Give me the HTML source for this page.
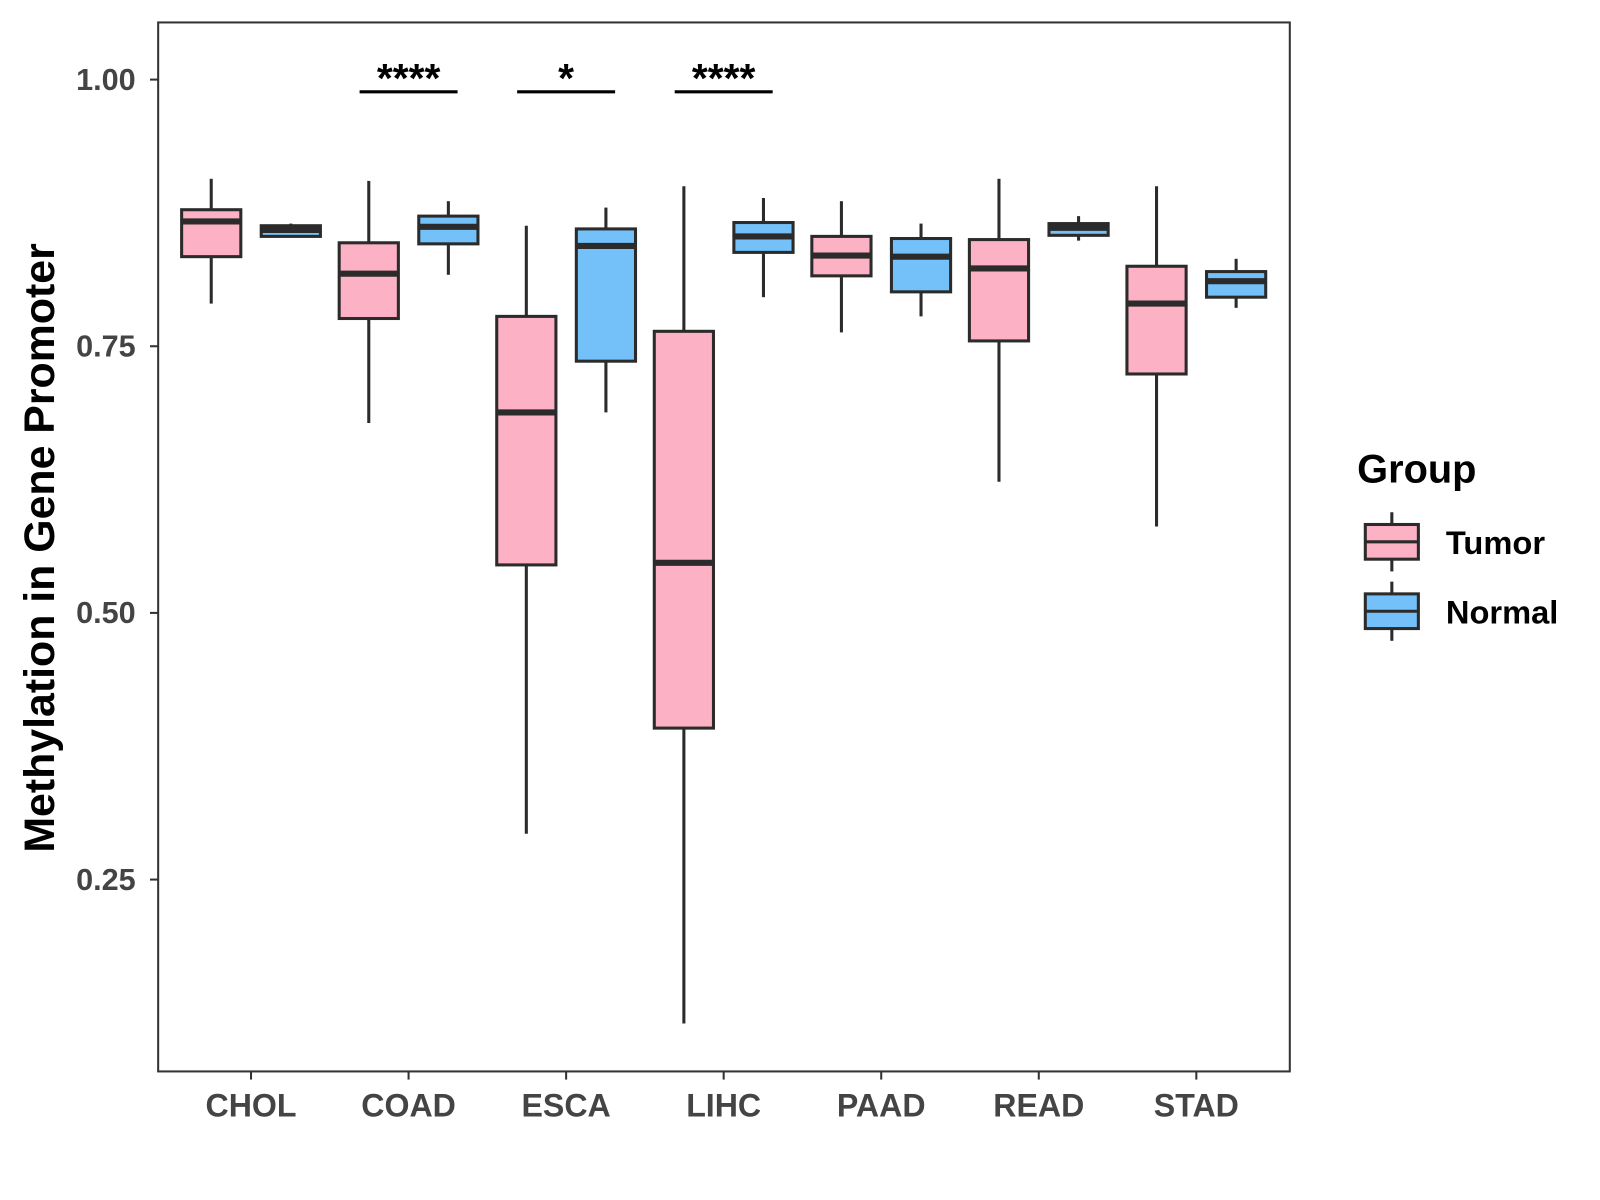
<!DOCTYPE html>
<html><head><meta charset="utf-8"><style>
body{margin:0;background:#fff;}
svg{display:block;}
svg text{font-family:"Liberation Sans",Arial,sans-serif;font-weight:bold;}
</style></head><body>
<svg id="chart" width="1600" height="1200" viewBox="0 0 1568 1176" preserveAspectRatio="none" xmlns="http://www.w3.org/2000/svg">
<rect x="0" y="0" width="1568" height="1176" fill="#fff"/>
<g id="plot"></g>
<rect x="155" y="22" width="1109" height="1028" fill="none" stroke="#333" stroke-width="2"/>
<text transform="translate(53,537) rotate(-90)" text-anchor="middle" font-size="42" fill="#000">Methylation in Gene Promoter</text>
<g>
<text x="1330" y="473" font-size="39" fill="#000">Group</text>
<g>
<line x1="1364" y1="502" x2="1364" y2="560" stroke="#2b2b2b" stroke-width="3"/>
<rect x="1338" y="514" width="52" height="34" fill="#fdb1c4" stroke="#2b2b2b" stroke-width="3"/>
<line x1="1338" y1="531" x2="1390" y2="531" stroke="#2b2b2b" stroke-width="3"/>
<text x="1417" y="543" font-size="32" fill="#000">Tumor</text></g>
<g>
<line x1="1364" y1="570" x2="1364" y2="628" stroke="#2b2b2b" stroke-width="3"/>
<rect x="1338" y="582" width="52" height="34" fill="#74c1fa" stroke="#2b2b2b" stroke-width="3"/>
<line x1="1338" y1="599" x2="1390" y2="599" stroke="#2b2b2b" stroke-width="3"/>
<text x="1417" y="611" font-size="32" fill="#000">Normal</text></g>
</g>
</svg>
<script>
const categories=["CHOL","COAD","ESCA","LIHC","PAAD","READ","STAD"];
// [low, q1, median, q3, high]
const tumorStats=[[0.790,0.834,0.867,0.878,0.907],[0.678,0.776,0.818,0.847,0.905],[0.293,0.545,0.688,0.778,0.863],[0.115,0.392,0.547,0.764,0.900],[0.763,0.816,0.835,0.853,0.886],[0.623,0.755,0.823,0.850,0.907],[0.581,0.724,0.790,0.825,0.900]];
const normalStats=[[0.852,0.853,0.859,0.863,0.865],[0.817,0.846,0.862,0.872,0.886],[0.688,0.736,0.844,0.860,0.880],[0.796,0.838,0.853,0.866,0.889],[0.778,0.801,0.834,0.851,0.865],[0.849,0.854,0.861,0.865,0.872],[0.786,0.796,0.811,0.820,0.832]];
const yTicks=[0.25,0.50,0.75,1.00];
const yTickLabels=["0.25","0.50","0.75","1.00"];
const sigCategories=["COAD","ESCA","LIHC"];
const sigLabels=["****","*","****"];

const NS="http://www.w3.org/2000/svg";
const g=document.getElementById("plot");
const y=v=>78+(1-v)*1045.3;
const x=i=>246+i*154.4;
function mk(tag,attrs,parent){const e=document.createElementNS(NS,tag);for(const k in attrs)e.setAttribute(k,attrs[k]);(parent||g).appendChild(e);return e;}
yTicks.forEach((t,i)=>{
 const l=mk("line",{x1:147,x2:155,y1:y(t),y2:y(t),stroke:"#333","stroke-width":2});
 
 
 const tx=mk("text",{x:133,y:y(t)+10,"text-anchor":"end","font-size":30,fill:"#444"});
 tx.textContent=yTickLabels[i];
 
 
});
categories.forEach((c,i)=>{
 const l=mk("line",{x1:x(i),x2:x(i),y1:1050,y2:1058,stroke:"#333","stroke-width":2});
 
 
 const tx=mk("text",{x:x(i),y:1094,"text-anchor":"middle","font-size":31.5,fill:"#444"});
 tx.textContent=c;
 
 
});
function box(cx,s,fill,name){
 const bg=mk("g",{});
 
 
 const w=29;
 mk("line",{x1:cx,x2:cx,y1:y(s[4]),y2:y(s[3]),stroke:"#2b2b2b","stroke-width":3},bg);
 mk("line",{x1:cx,x2:cx,y1:y(s[1]),y2:y(s[0]),stroke:"#2b2b2b","stroke-width":3},bg);
 mk("rect",{x:cx-w,y:y(s[3]),width:2*w,height:y(s[1])-y(s[3]),fill:fill,stroke:"#2b2b2b","stroke-width":3},bg);
 mk("line",{x1:cx-w,x2:cx+w,y1:y(s[2]),y2:y(s[2]),stroke:"#2b2b2b","stroke-width":6},bg);
}
categories.forEach((c,i)=>{
 box(x(i)-39,tumorStats[i],"#fdb1c4","box-tumor-"+c.toLowerCase());
 box(x(i)+39,normalStats[i],"#74c1fa","box-normal-"+c.toLowerCase());
});
sigCategories.forEach((c,j)=>{
 const i=categories.indexOf(c);
 const l=mk("line",{x1:x(i)-48,x2:x(i)+48,y1:90,y2:90,stroke:"#000","stroke-width":3});
 
 
 const tx=mk("text",{x:x(i),y:90,"text-anchor":"middle","font-size":40,fill:"#000"});
 tx.textContent=sigLabels[j];
 
 
});
</script>
</body></html>
